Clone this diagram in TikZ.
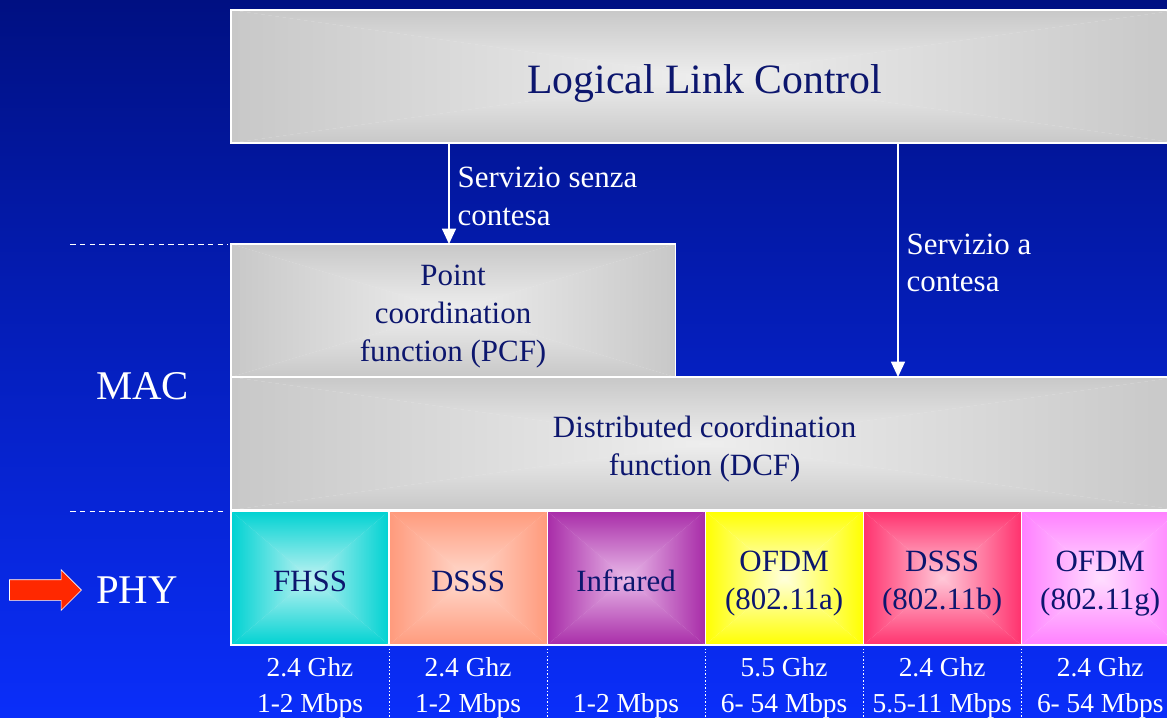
\documentclass[tikz,border=0pt]{standalone}
\usepackage{fontspec}
\setmainfont{Liberation Serif}
\usetikzlibrary{arrows.meta,positioning,shapes.arrows}
\definecolor{bgtop}{RGB}{0,16,130}
\definecolor{bgbot}{RGB}{10,46,250}
\definecolor{ink}{RGB}{12,22,110}
\definecolor{grayedge}{RGB}{200,200,200}
\definecolor{graymid}{RGB}{238,238,238}
\definecolor{fhssedge}{RGB}{0,210,210}
\definecolor{fhssmid}{RGB}{190,242,242}
\definecolor{dsssedge}{RGB}{255,154,124}
\definecolor{dsssmid}{RGB}{255,218,206}
\definecolor{iredge}{RGB}{168,44,168}
\definecolor{irmid}{RGB}{232,184,232}
\definecolor{aedge}{RGB}{255,255,0}
\definecolor{amid}{RGB}{255,255,220}
\definecolor{bedge}{RGB}{255,50,110}
\definecolor{bmid}{RGB}{255,200,216}
\definecolor{gedge}{RGB}{255,128,255}
\definecolor{gmid}{RGB}{255,222,255}
\definecolor{arrowred}{RGB}{255,40,0}
\newcommand{\tall}{\rule{0pt}{1.05em}}
\tikzset{
    %Define standard arrow tip
    >={Triangle[width=10pt,length=11pt]},
    %Pyramid shading, edge colour and centre colour
    pyramid/.style 2 args={
           fill=#2,
           path picture={
               \coordinate (pa) at (path picture bounding box.south west);
               \coordinate (pb) at (path picture bounding box.north east);
               \coordinate (pc) at (path picture bounding box.center);
               \shade[top color=#1, bottom color=#2] (pa|-pb) -- (pb) -- (pc) -- cycle;
               \shade[bottom color=#1, top color=#2] (pa) -- (pb|-pa) -- (pc) -- cycle;
               \shade[left color=#1, right color=#2] (pa) -- (pa|-pb) -- (pc) -- cycle;
               \shade[right color=#1, left color=#2] (pb|-pa) -- (pb) -- (pc) -- cycle;
           }},
    %Define style for boxes
    layer/.style={
           rectangle,
           draw=white, line width=0.8pt,
           inner sep=0pt, outer sep=0pt,
           anchor=north west,
           minimum height=3.325cm,
           text=ink,
           align=center,
           font=\fontsize{22}{27}\selectfont,
           execute at begin node={\tall},
           execute at end node={\rule[-0.2em]{0pt}{0pt}},
           pyramid={grayedge}{graymid}},
    phybox/.style={
           layer,
           minimum width=3.95cm,
           minimum height=3.35cm},
    rate/.style={
           text=white,
           align=center,
           inner sep=0pt,
           font=\fontsize{19.5}{25.6}\selectfont},
    side/.style={
           text=white,
           anchor=west,
           inner sep=0pt,
           font=\fontsize{29}{34}\selectfont},
    svc/.style={
           text=white,
           align=left,
           inner sep=0pt,
           yshift=-2pt,
           font=\fontsize{22}{26.5}\selectfont},
    % Define arrow style
    conn/.style={
           ->,
           draw=white, fill=white,
           line width=1pt},
    sep/.style={
           draw=white,
           line width=0.7pt,
           dash pattern=on 4pt off 3pt},
    dotsep/.style={
           draw=white,
           line width=0.5pt,
           dash pattern=on 1pt off 1.5pt},
    redarrow/.style={
           single arrow,
           draw=white, line width=0.5pt,
           fill=arrowred,
           inner xsep=0pt,
           inner ysep=0.25cm,
           minimum height=1.8cm,
           single arrow head extend=0.25cm}
}
\begin{document}
\begin{tikzpicture}[x=0.025cm,y=-0.025cm]
\clip (0,0) rectangle (1167,718);
\shade[top color=bgtop, bottom color=bgbot] (0,0) rectangle (1167,718);

\node[layer, minimum width=23.675cm, font=\fontsize{29.7}{33}\selectfont] (llc) at (231,10) {Logical Link Control};
\node[layer, minimum width=11.1cm] (pcf) at (231,244) {\tall Point\\coordination\\function (PCF)};
\node[layer, minimum width=23.675cm] (dcf) at (231,377) {\tall Distributed coordination\\function (DCF)};

\node[phybox, pyramid={fhssedge}{fhssmid}] (fhss) at (231,511) {FHSS};
\node[phybox, right=0pt of fhss, pyramid={dsssedge}{dsssmid}] (dsss) {DSSS};
\node[phybox, right=0pt of dsss, pyramid={iredge}{irmid}] (ir) {Infrared};
\node[phybox, right=0pt of ir, pyramid={aedge}{amid}] (ofdma) {\tall OFDM\\(802.11a)};
\node[phybox, right=0pt of ofdma, pyramid={bedge}{bmid}] (dsssb) {\tall DSSS\\(802.11b)};
\node[phybox, right=0pt of dsssb, pyramid={gedge}{gmid}] (ofdmg) {\tall OFDM\\(802.11g)};

\node[rate, below=0.3cm of fhss] (r1) {2.4 Ghz\\1-2 Mbps};
\node[rate, below=0.3cm of dsss] (r2) {2.4 Ghz\\1-2 Mbps};
\node[rate, below=0.3cm of ir] (r3) {\phantom{2.4 Ghz}\\1-2 Mbps};
\node[rate, below=0.3cm of ofdma] (r4) {5.5 Ghz\\6- 54 Mbps};
\node[rate, below=0.3cm of dsssb] (r5) {2.4 Ghz\\5.5-11 Mbps};
\node[rate, below=0.3cm of ofdmg] (r6) {2.4 Ghz\\6- 54 Mbps};
\foreach \n in {fhss,dsss,ir,ofdma,dsssb}
    \draw[dotsep] (\n.south east) -- ++(0,80);

\node[side] (mac) at (96,386) {MAC};
\node[side] (phy) at (96,590) {PHY};
\node[redarrow, left=0.35cm of phy] (phyarr) {};

\draw[sep] ([xshift=-4.025cm]pcf.north west) -- ([xshift=-0.075cm]pcf.north west);
\draw[sep] ([xshift=-4.025cm]fhss.north west) -- ([xshift=-0.15cm]fhss.north west);

\coordinate (tapA) at (449,0);
\coordinate (tapB) at (898,0);
\draw[conn] (llc.south -| tapA) -- node[svc, right=0.2cm] {Servizio senza\\contesa} (pcf.north -| tapA);
\draw[conn] (llc.south -| tapB) -- node[svc, right=0.2cm] {Servizio a\\contesa} (dcf.north -| tapB);
\end{tikzpicture}
\end{document}
